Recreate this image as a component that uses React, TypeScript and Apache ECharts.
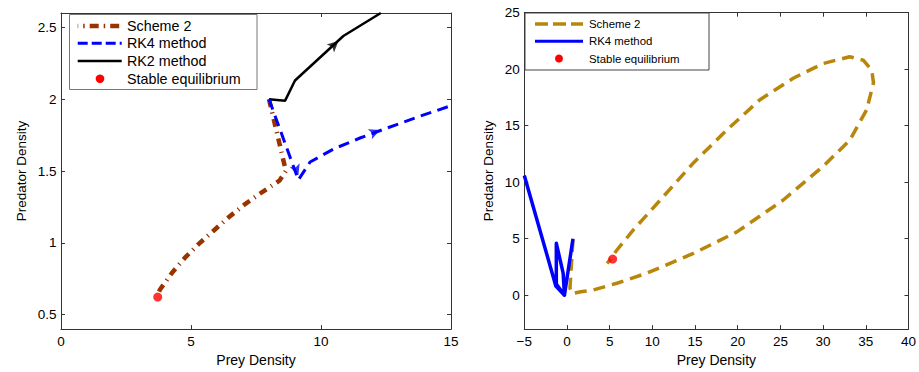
import React, { useEffect, useRef } from 'react';
import * as echarts from 'echarts';

// ---- Left panel data ----
const leftScheme2: number[][] = [
  [8.0, 2.0], [8.3, 1.77], [8.65, 1.5], [8.4, 1.433], [7.74, 1.354], [7.08, 1.27],
  [6.46, 1.18], [5.9, 1.09], [5.31, 0.995], [4.8, 0.903], [4.28, 0.794], [3.81, 0.676], [3.7, 0.63],
];
const leftRK4: number[][] = [
  [8.0, 2.0], [9.13, 1.438], [9.58, 1.563], [10.5, 1.655], [11.5, 1.73], [12.4, 1.79], [13.7, 1.875], [15, 1.955],
];
const leftRK2: number[][] = [[8.0, 2.0], [8.62, 1.99], [9.0, 2.13], [10.86, 2.44], [12.3, 2.6]];
const leftEquilibrium: number[][] = [[3.72, 0.623]];
const leftArrowPos: number[][] = [[10.67, 2.405], [12.27, 1.785], [9.13, 1.47]];
const leftArrowAngle: number[] = [-47, -68, -160];
const leftArrowColor: string[] = ['#000000', '#0000ff', '#0000ff'];
const leftYTicks: number[] = [0.5, 1, 1.5, 2, 2.5];

// ---- Right panel data ----
const rightScheme2: number[][] = [
  [0.7, 4.9], [0.5, 2.5], [0.35, 0.6], [0.6, 0.15], [1.6, 0.3], [3.1, 0.47], [5.85, 1.06], [9.36, 1.95],
  [14.8, 3.7], [19.9, 5.6], [25.3, 8.4], [30.0, 11.4], [33.1, 13.7], [35.1, 16.4], [35.9, 18.8],
  [35.7, 19.9], [34.7, 20.8], [33.1, 21.1], [30.0, 20.5], [26.5, 19.2], [22.6, 17.3], [18.7, 14.6],
  [14.8, 11.7], [10.9, 8.4], [7.8, 5.8], [5.85, 4.0], [4.7, 2.8],
];
const rightRK4: number[][] = [
  [-5, 10.6], [-1.3, 0.8], [-0.3, 0.0], [-1.25, 1.0], [-1.25, 4.6], [-0.45, 1.95], [-0.3, 0.0], [0.7, 5.0],
];
const rightEquilibrium: number[][] = [[5.35, 3.2]];
const rightYTicks: number[] = [0, 5, 10, 15, 20, 25];

const FONT = '"Liberation Sans", Arial, sans-serif';
const AXIS_COLOR = '#333333';

export default function App() {
  const ref = useRef<HTMLDivElement>(null);

  useEffect(() => {
    if (!ref.current) return;
    const chart = echarts.init(ref.current, undefined, { renderer: 'svg' });

    const label = { color: '#000', fontSize: 13.5, fontFamily: FONT };
    const nameStyle = { color: '#000', fontSize: 14, fontFamily: FONT };
    const axisLine = { show: true, onZero: false, lineStyle: { color: AXIS_COLOR, width: 1 } };
    const tick = (custom?: number[]) => ({
      show: true, inside: true, length: 4, lineStyle: { color: AXIS_COLOR },
      ...(custom ? { customValues: custom } : {}),
    });
    const minusFmt = (v: number) => String(v).replace('-', '\u2212');

    const legendLine = (x1: number, x2: number, y: number, stroke: string, lineWidth: number, lineDash?: number[], lineDashOffset = 0) => ({
      type: 'line', z: 101,
      shape: { x1, y1: y, x2, y2: y },
      style: { stroke, lineWidth, lineDash: lineDash || null, lineDashOffset, lineCap: 'butt' },
    });
    const legendText = (x: number, y: number, text: string, size: number) => ({
      type: 'text', z: 101, x, y,
      style: { text, fill: '#000', fontSize: size, fontFamily: FONT, verticalAlign: 'middle', textVerticalAlign: 'middle' },
    });

    const option: any = {
      animation: false,
      backgroundColor: '#ffffff',
      grid: [
        { left: 61, top: 13, width: 390, height: 322 },
        { left: 524.3, top: 12.7, width: 384.7, height: 316.6 },
      ],
      xAxis: [
        {
          type: 'value', gridIndex: 0, position: 'bottom', min: 0, max: 15, interval: 5,
          name: 'Prey Density', nameLocation: 'middle', nameGap: 21, nameTextStyle: nameStyle,
          axisLine, axisTick: tick(), axisLabel: { ...label, margin: 5 }, splitLine: { show: false },
        },
        {
          type: 'value', gridIndex: 0, position: 'top', min: 0, max: 15, interval: 5,
          axisLine, axisTick: tick(), axisLabel: { show: false }, splitLine: { show: false },
        },
        {
          type: 'value', gridIndex: 1, position: 'bottom', min: -5, max: 40, interval: 5,
          name: 'Prey Density', nameLocation: 'middle', nameGap: 21, nameTextStyle: nameStyle,
          axisLine, axisTick: tick(), axisLabel: { ...label, margin: 5, formatter: minusFmt }, splitLine: { show: false },
        },
        {
          type: 'value', gridIndex: 1, position: 'top', min: -5, max: 40, interval: 5,
          axisLine, axisTick: tick(), axisLabel: { show: false }, splitLine: { show: false },
        },
      ],
      yAxis: [
        {
          type: 'value', gridIndex: 0, position: 'left', min: 0.4, max: 2.6,
          name: 'Predator Density', nameLocation: 'middle', nameGap: 32.5, nameTextStyle: { ...nameStyle, fontSize: 13.5 },
          axisLine, axisTick: tick(leftYTicks), axisLabel: { ...label, margin: 4.5, customValues: leftYTicks }, splitLine: { show: false },
        },
        {
          type: 'value', gridIndex: 0, position: 'right', min: 0.4, max: 2.6,
          axisLine, axisTick: tick(leftYTicks), axisLabel: { show: false }, splitLine: { show: false },
        },
        {
          type: 'value', gridIndex: 1, position: 'left', min: -3, max: 25,
          name: 'Predator Density', nameLocation: 'middle', nameGap: 28.5, nameTextStyle: { ...nameStyle, fontSize: 13.5 },
          axisLine, axisTick: tick(rightYTicks), axisLabel: { ...label, margin: 4.5, customValues: rightYTicks }, splitLine: { show: false },
        },
        {
          type: 'value', gridIndex: 1, position: 'right', min: -3, max: 25,
          axisLine, axisTick: tick(rightYTicks), axisLabel: { show: false }, splitLine: { show: false },
        },
      ],
      series: [
        {
          name: 'RK2 method', type: 'line', xAxisIndex: 0, yAxisIndex: 0, data: leftRK2, symbol: 'none',
          lineStyle: { color: '#000000', width: 2.5 }, z: 3,
        },
        {
          name: 'Scheme 2', type: 'line', xAxisIndex: 0, yAxisIndex: 0, data: leftScheme2, symbol: 'none',
          lineStyle: { color: '#993300', width: 4.5, type: [8, 5.5, 1.2, 5.5], cap: 'butt' }, z: 2,
        },
        {
          name: 'RK4 method', type: 'line', xAxisIndex: 0, yAxisIndex: 0, data: leftRK4, symbol: 'none',
          lineStyle: { color: '#0000ff', width: 3, type: [11, 6.5], cap: 'butt' }, z: 3,
        },
        {
          name: 'Stable equilibrium', type: 'scatter', xAxisIndex: 0, yAxisIndex: 0, data: leftEquilibrium,
          symbol: 'circle', symbolSize: 9, itemStyle: { color: '#ff0000' }, z: 5,
        },
        {
          name: 'arrows', type: 'scatter', xAxisIndex: 0, yAxisIndex: 0,
          data: leftArrowPos.map((p, i) => ({ value: p, symbolRotate: leftArrowAngle[i], itemStyle: { color: leftArrowColor[i] } })),
          symbol: 'arrow', symbolSize: [8, 11], z: 4,
        },
        {
          name: 'Scheme 2 (b)', type: 'line', xAxisIndex: 2, yAxisIndex: 2, data: rightScheme2, symbol: 'none',
          lineStyle: { color: '#b8860b', width: 3.5, type: [12, 7], cap: 'butt' }, z: 2,
        },
        {
          name: 'RK4 method (b)', type: 'line', xAxisIndex: 2, yAxisIndex: 2, data: rightRK4, symbol: 'none',
          lineStyle: { color: '#0000ff', width: 3.5, join: 'round' }, z: 3,
        },
        {
          name: 'Stable equilibrium (b)', type: 'scatter', xAxisIndex: 2, yAxisIndex: 2, data: rightEquilibrium,
          symbol: 'circle', symbolSize: 9, itemStyle: { color: '#ff0000' }, z: 5,
        },
      ],
      graphic: [
        // left legend
        { type: 'rect', z: 100, shape: { x: 69.5, y: 14.5, width: 187.5, height: 75 }, style: { fill: '#fff', stroke: '#777', lineWidth: 1 } },
        legendLine(77.7, 121.7, 26, '#993300', 4.5, [9, 5, 1.5, 5], -12),
        legendText(127, 26, 'Scheme 2', 14.3),
        legendLine(77.7, 121.7, 43.3, '#0000ff', 3, [10, 4]),
        legendText(127, 43.3, 'RK4 method', 14.3),
        legendLine(77.7, 121.7, 61, '#000000', 2.5),
        legendText(127, 61, 'RK2 method', 14.3),
        { type: 'circle', z: 101, shape: { cx: 100, cy: 78.7, r: 4.3 }, style: { fill: '#ff0000' } },
        legendText(127, 78.7, 'Stable equilibrium', 14.3),
        // right legend
        { type: 'rect', z: 100, shape: { x: 525, y: 13, width: 184, height: 57 }, style: { fill: '#fff', stroke: '#444', lineWidth: 1 } },
        legendLine(535, 583, 24, '#b8860b', 3.5, [13, 5]),
        legendText(589, 24, 'Scheme 2', 11.4),
        legendLine(535, 583, 41.3, '#0000ff', 3),
        legendText(589, 41.3, 'RK4 method', 11.4),
        { type: 'circle', z: 101, shape: { cx: 559, cy: 58.5, r: 4 }, style: { fill: '#ff0000' } },
        legendText(589, 58.7, 'Stable equilibrium', 11.4),
      ],
    };

    chart.setOption(option);
    return () => chart.dispose();
  }, []);

  return (
    <div
      ref={ref}
      style={{ position: 'fixed', left: 0, top: 0, width: 919, height: 372, background: '#fff' }}
    />
  );
}
